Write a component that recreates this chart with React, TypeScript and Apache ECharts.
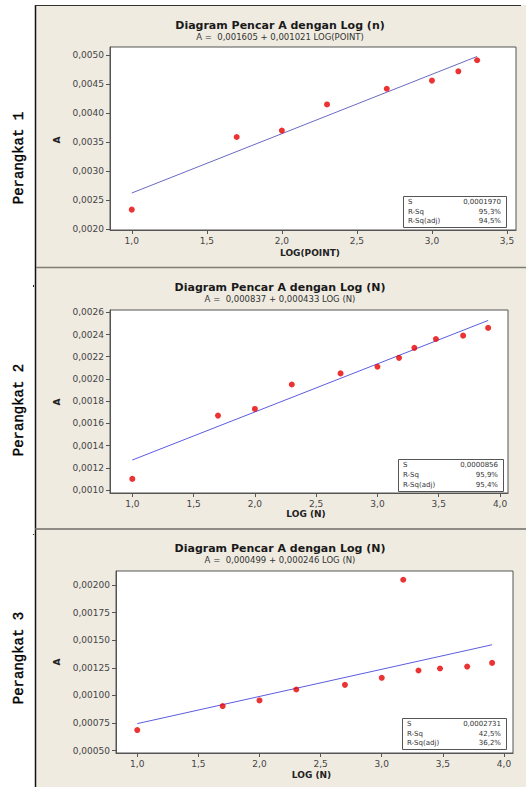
import React, { useEffect, useRef } from "react";
import * as echarts from "echarts";

// ---- Data ----
const logPoint1 = [1.0, 1.699, 2.0, 2.301, 2.699, 3.0, 3.176, 3.301];
const a1 = [0.00234, 0.00359, 0.0037, 0.00415, 0.00442, 0.00456, 0.00472, 0.00491];

const logN2 = [1.0, 1.699, 2.0, 2.301, 2.699, 3.0, 3.176, 3.301, 3.477, 3.699, 3.903];
const a2 = [0.0011, 0.00167, 0.00173, 0.00195, 0.00205, 0.00211, 0.00219, 0.00228, 0.00236, 0.00239, 0.00246];

const logN3 = [1.0, 1.699, 2.0, 2.301, 2.699, 3.0, 3.176, 3.301, 3.477, 3.699, 3.903];
const a3 = [0.000687, 0.000904, 0.000955, 0.001054, 0.001096, 0.00116, 0.002048, 0.001226, 0.001244, 0.001262, 0.001295];

// regression: [intercept, slope]
const fit1 = [0.001605, 0.001021];
const fit2 = [0.000837, 0.000433];
const fit3 = [0.000499, 0.000246];

const xTicks1 = [1.0, 1.5, 2.0, 2.5, 3.0, 3.5];
const xTicks23 = [1.0, 1.5, 2.0, 2.5, 3.0, 3.5, 4.0];
const yTicks1 = [0.002, 0.0025, 0.003, 0.0035, 0.004, 0.0045, 0.005];
const yTicks2 = [0.001, 0.0012, 0.0014, 0.0016, 0.0018, 0.002, 0.0022, 0.0024, 0.0026];
const yTicks3 = [0.0005, 0.00075, 0.001, 0.00125, 0.0015, 0.00175, 0.002];

const titles = [
  "Diagram Pencar A dengan Log (n)",
  "Diagram Pencar A dengan Log (N)",
  "Diagram Pencar A dengan Log (N)",
];
const subtitles = [
  "A =  0,001605 + 0,001021 LOG(POINT)",
  "A =  0,000837 + 0,000433 LOG (N)",
  "A =  0,000499 + 0,000246 LOG (N)",
];
const xNames = ["LOG(POINT)", "LOG (N)", "LOG (N)"];
const sideLabels = ["Perangkat 1", "Perangkat 2", "Perangkat 3"];
const statNames = ["S", "R-Sq", "R-Sq(adj)"];
const stats1 = ["0,0001970", "95,3%", "94,5%"];
const stats2 = ["0,0000856", "95,9%", "95,4%"];
const stats3 = ["0,0002731", "42,5%", "36,2%"];

const BEIGE = "#efebe1";
const AXIS = "#555";
const LABEL = "#444";
const FONT = "DejaVu Sans";

const fmt = (d: number) => (v: number) => v.toFixed(d).replace(".", ",");

export default function App() {
  const ref = useRef<HTMLDivElement>(null);

  useEffect(() => {
    if (!ref.current) return;
    const chart = echarts.init(ref.current, undefined, { renderer: "svg" });

    const panels = [
      { left: 110, top: 47, width: 406, height: 183, xmin: 0.855, xmax: 3.56, ymin: 0.00199, ymax: 0.005138, xt: xTicks1, yt: yTicks1, yd: 4, xs: logPoint1, ys: a1, fit: fit1, line: "#6a6ac4", stats: stats1, box: [403, 196, 103, 31], tY: 25, nameY: 253, aY: 140, sideY: 158 },
      { left: 110, top: 310, width: 398, height: 183, xmin: 0.818, xmax: 4.065, ymin: 0.000973, ymax: 0.002621, xt: xTicks23, yt: yTicks2, yd: 4, xs: logN2, ys: a2, fit: fit2, line: "#5c5ce0", stats: stats2, box: [398, 459, 105, 32], tY: 287, nameY: 514, aY: 402, sideY: 410 },
      { left: 116, top: 571, width: 397, height: 182, xmin: 0.826, xmax: 4.074, ymin: 0.000479, ymax: 0.002127, xt: xTicks23, yt: yTicks3, yd: 5, xs: logN3, ys: a3, fit: fit3, line: "#5c5ce0", stats: stats3, box: [402, 718, 104, 31], tY: 548, nameY: 775, aY: 662, sideY: 658 },
    ];

    const grid: any[] = [];
    const xAxis: any[] = [];
    const yAxis: any[] = [];
    const series: any[] = [];
    const graphic: any[] = [
      { type: "rect", z: -10, shape: { x: 36, y: 5, width: 490, height: 782 }, style: { fill: BEIGE } },
      { type: "line", z: 50, shape: { x1: 35.5, y1: 5, x2: 35.5, y2: 787 }, style: { stroke: "#111", lineWidth: 1.5 } },
      { type: "line", z: 50, shape: { x1: 35, y1: 5.5, x2: 521, y2: 5.5 }, style: { stroke: "#333", lineWidth: 1 } },
      { type: "line", z: 50, shape: { x1: 36, y1: 267.5, x2: 526, y2: 267.5 }, style: { stroke: "#7f7d74", lineWidth: 1.5 } },
      { type: "line", z: 50, shape: { x1: 35, y1: 529, x2: 526, y2: 529 }, style: { stroke: "#6f6d66", lineWidth: 1.5 } },
      { type: "rect", shape: { x: 33, y: 285, width: 1, height: 2 }, style: { fill: "#222" } },
      { type: "rect", shape: { x: 33, y: 534, width: 1, height: 1 }, style: { fill: "#222" } },
    ];

    panels.forEach((p, i) => {
      grid.push({
        left: p.left, top: p.top, width: p.width, height: p.height,
        show: true, backgroundColor: "#fff", borderColor: AXIS, borderWidth: 1,
      });
      xAxis.push({
        type: "value", gridIndex: i, min: p.xmin, max: p.xmax,
        axisLine: { show: true, lineStyle: { color: AXIS } },
        axisTick: { show: true, length: 4, lineStyle: { color: AXIS }, customValues: p.xt },
        axisLabel: { color: LABEL, fontFamily: FONT, fontSize: 9, margin: 6, customValues: p.xt, formatter: fmt(1) },
        splitLine: { show: false },
      });
      yAxis.push({
        type: "value", gridIndex: i, min: p.ymin, max: p.ymax,
        axisLine: { show: true, lineStyle: { color: AXIS } },
        axisTick: { show: true, length: 4, lineStyle: { color: AXIS }, customValues: p.yt },
        axisLabel: { color: LABEL, fontFamily: FONT, fontSize: 9, margin: 6, customValues: p.yt, formatter: fmt(p.yd) },
        splitLine: { show: false },
      });
      const x0 = Math.min(...p.xs);
      const x1 = Math.max(...p.xs);
      series.push({
        type: "line", xAxisIndex: i, yAxisIndex: i, symbol: "none", silent: true, z: 2,
        lineStyle: { color: p.line, width: 1 },
        data: [[x0, p.fit[0] + p.fit[1] * x0], [x1, p.fit[0] + p.fit[1] * x1]],
      });
      series.push({
        type: "scatter", xAxisIndex: i, yAxisIndex: i, symbol: "circle", symbolSize: 6, z: 3,
        itemStyle: { color: "#e60000" },
        data: p.xs.map((x, k) => [x, p.ys[k]]),
      });

      const cx = p.left + p.width / 2;
      graphic.push(
        { type: "text", x: 280, y: p.tY, style: { text: titles[i], fill: "#1a1a1a", fontFamily: FONT, fontWeight: "bold", fontSize: 11, align: "center", verticalAlign: "middle" } },
        { type: "text", x: 280, y: p.tY + 11.5, style: { text: subtitles[i], fill: "#333", fontFamily: FONT, fontSize: 8.5, align: "center", verticalAlign: "middle" } },
        { type: "text", x: cx - 3, y: p.nameY, style: { text: xNames[i], fill: "#222", fontFamily: FONT, fontWeight: "bold", fontSize: 9, align: "center", verticalAlign: "middle" } },
        { type: "text", x: 57, y: p.aY, rotation: Math.PI / 2, style: { text: "A", fill: "#222", fontFamily: FONT, fontWeight: "bold", fontSize: 9, align: "center", verticalAlign: "middle" } },
        { type: "text", x: 19, y: p.sideY, rotation: Math.PI / 2, style: { text: sideLabels[i], fill: "#000", fontFamily: "Liberation Mono", fontWeight: "normal", fontSize: 14, align: "center", verticalAlign: "middle", stroke: "#000", lineWidth: 0.4 } },
      );
      const [bx, by, bw, bh] = p.box;
      graphic.push({ type: "rect", z: 100, shape: { x: bx + 0.5, y: by + 0.5, width: bw, height: bh }, style: { fill: "#fff", stroke: AXIS, lineWidth: 1 } });
      statNames.forEach((n, k) => {
        const ry = by + 6 + k * (bh - 12) / 2;
        graphic.push(
          { type: "text", z: 101, x: bx + 5, y: ry, style: { text: n, fill: "#333", fontFamily: FONT, fontSize: 7, align: "left", verticalAlign: "middle" } },
          { type: "text", z: 101, x: bx + bw - 5, y: ry, style: { text: p.stats[k], fill: "#333", fontFamily: FONT, fontSize: 7, align: "right", verticalAlign: "middle" } },
        );
      });
    });

    chart.setOption({
      animation: false,
      backgroundColor: "#fff",
      grid, xAxis, yAxis, series, graphic,
    });
    return () => chart.dispose();
  }, []);

  return <div ref={ref} style={{ position: "absolute", left: 0, top: 0, width: 526, height: 787 }} />;
}
